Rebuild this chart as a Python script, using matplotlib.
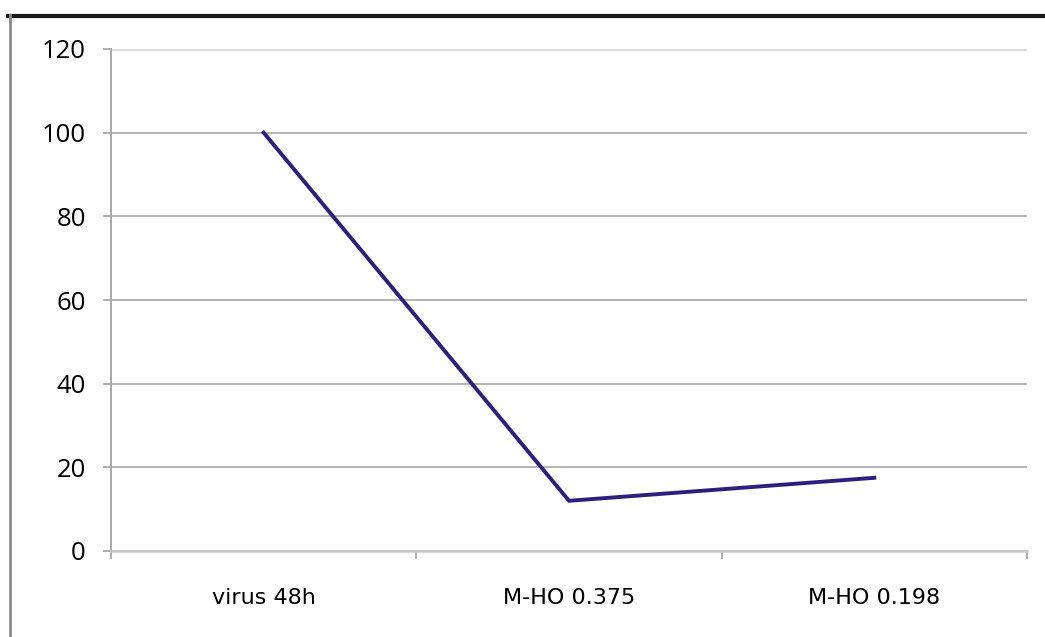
import matplotlib
matplotlib.use("Agg")
import matplotlib.pyplot as plt
from matplotlib.lines import Line2D

categories = ["virus 48h", "M-HO 0.375", "M-HO 0.198"]
values = [100, 12, 17.5]
y_ticks = [0, 20, 40, 60, 80, 100, 120]

plt.rcParams['font.family'] = ['Open Sans', 'DejaVu Sans']

W, H = 1045, 637
fig = plt.figure(figsize=(W / 100, H / 100), dpi=100)
ax = fig.add_axes([111 / W, 1 - 551 / H, (1027 - 111) / W, (551 - 49) / H])

x = [i + 0.5 for i in range(len(categories))]
ax.plot(x, values, color="#2e1f7c", lw=2.8, solid_joinstyle="miter")

ax.set_xlim(0, len(categories))
ax.set_ylim(0, 120)
ax.set_yticks(y_ticks)
ax.set_yticklabels([str(v) for v in y_ticks], fontsize=18.5)
ax.set_xticks(range(len(categories) + 1))
ax.set_xticklabels([])
ax.set_xticks(x, minor=True)
ax.set_xticklabels(categories, minor=True, fontsize=16, family=['DejaVu Sans'])
ax.tick_params(axis="x", which="minor", length=0, pad=27)
ax.tick_params(axis="x", which="major", length=6, color="#a0a0a0", width=1.2)
ax.tick_params(axis="y", length=6, color="#a0a0a0", width=1.2, pad=12)

ax.grid(axis="y", color="#b4b4b4", lw=1.4)
gl = ax.get_ygridlines()
gl[-1].set_color("#dcdcdc")
gl[-1].set_linewidth(2.5)
ax.set_axisbelow(True)
for s in ["top", "right"]:
    ax.spines[s].set_visible(False)
ax.spines["left"].set_color("#a8a8a8")
ax.spines["bottom"].set_color("#c8c8c8")
ax.spines["left"].set_linewidth(1.4)
ax.spines["bottom"].set_linewidth(1.8)

# outer frame lines (top dark, left gray)
fig.add_artist(Line2D([8 / W, 1.0], [1 - 15.5 / H, 1 - 15.5 / H], color="#1a1a1a", lw=3, transform=fig.transFigure))
fig.add_artist(Line2D([10 / W, 10 / W], [0, 1 - 15 / H], color="#8a8a8a", lw=2, transform=fig.transFigure))

fig.savefig("out.png", dpi=100)
